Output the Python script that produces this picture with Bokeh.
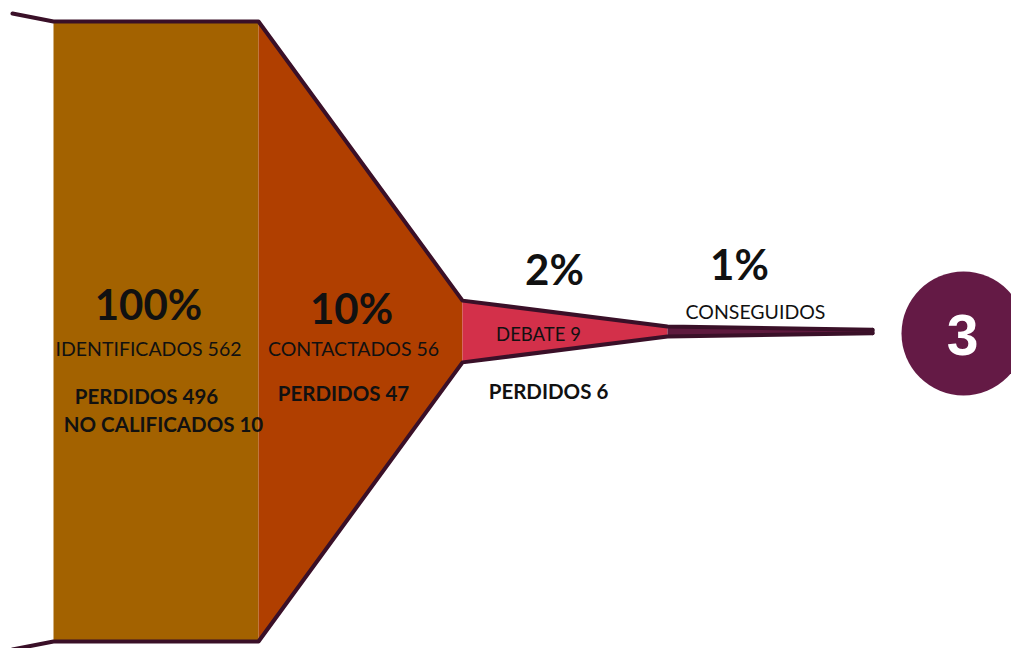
from bokeh.plotting import figure
from bokeh.models import Range1d
from bokeh.core.properties import value
from bokeh.embed import file_html
from bokeh.resources import INLINE

# ---- data ----
stages = ["IDENTIFICADOS", "CONTACTADOS", "DEBATE", "CONSEGUIDOS"]
counts = [562, 56, 9, 3]
percents = ["100%", "10%", "2%", "1%"]
lost = [496, 47, 6]
no_calificados = 10
final_count = 3

# ---- layout / style ----
W, H = 1011, 648
CY = 331                      # funnel centre line (screen px)
FULL_H = 620                  # height of the widest stage
XS = [53, 258, 462, 667, 872]  # stage boundaries
FILLS = ["#A36200", "#B03F00", "#D3304A", "#5E1A3E"]
EDGE = "#3A1028"
FONT = value("Lato")

p = figure(width=W, height=H, output_backend="svg", toolbar_location=None,
           x_range=Range1d(0, W), y_range=Range1d(H, 0),
           min_border=0)
p.axis.visible = False
p.grid.visible = False
p.outline_line_color = None
p.background_fill_color = "white"

def half(c):
    return c / counts[0] * FULL_H / 2

# section heights at each boundary: first stage is a rectangle
bound_counts = [counts[0], counts[0], counts[1], counts[2], counts[3]]

xs_p, ys_p = [], []
for i in range(4):
    x0, x1 = XS[i], XS[i + 1]
    h0, h1 = half(bound_counts[i]), half(bound_counts[i + 1])
    xs_p.append([x0, x1, x1, x0])
    ys_p.append([CY - h0, CY - h1, CY + h1, CY + h0])
p.patches(xs_p, ys_p, fill_color=FILLS, line_color=None)

# outline along top and bottom edges (with leading flare)
flare_x = 12
flare_h = half(counts[0]) + 8
top_x = [flare_x] + XS
top_y = [CY - flare_h] + [CY - half(c) for c in bound_counts]
bot_y = [CY + flare_h] + [CY + half(c) for c in bound_counts]
p.multi_line([top_x, top_x], [top_y, bot_y], line_color=EDGE, line_width=4,
             line_join="round", line_cap="round")
# closing end of tail
p.line([XS[-1], XS[-1]], [CY - half(counts[3]), CY + half(counts[3])],
       line_color=EDGE, line_width=4, line_cap="round")

# end circle
p.circle(x=[963], y=[333], radius=62, fill_color="#641A45", line_color=None)
p.text(x=[962], y=[334], text=[str(final_count)], text_color="white",
       text_font=value("Liberation Sans"), text_font_style="bold",
       text_font_size="57px", text_align="center", text_baseline="middle")

# labels
def label(x, y, t, size, style="bold"):
    p.text(x=[x], y=[y], text=[t], text_font=FONT, text_font_style=style,
           text_font_size=size, text_align="center", text_baseline="middle",
           text_color="#111111")

big = "42px"
name = "19.5px"
lostsz = "20.5px"
label(148, 303, percents[0], big)
label(351, 307, percents[1], big)
label(554, 268, percents[2], big)
label(739, 263, percents[3], big)

label(148, 348, f"{stages[0]} {counts[0]}", name, "normal")
label(353, 348, f"{stages[1]} {counts[1]}", name, "normal")
label(538, 333, f"{stages[2]} {counts[2]}", "18.5px", "normal")
label(755, 311, stages[3], name, "normal")

label(146, 395, f"PERDIDOS {lost[0]}", lostsz)
label(163, 423, f"NO CALIFICADOS {no_calificados}", lostsz)
label(343, 392, f"PERDIDOS {lost[1]}", lostsz)
label(548, 390, f"PERDIDOS {lost[2]}", lostsz)

open("out.html", "w").write(file_html(p, INLINE))
